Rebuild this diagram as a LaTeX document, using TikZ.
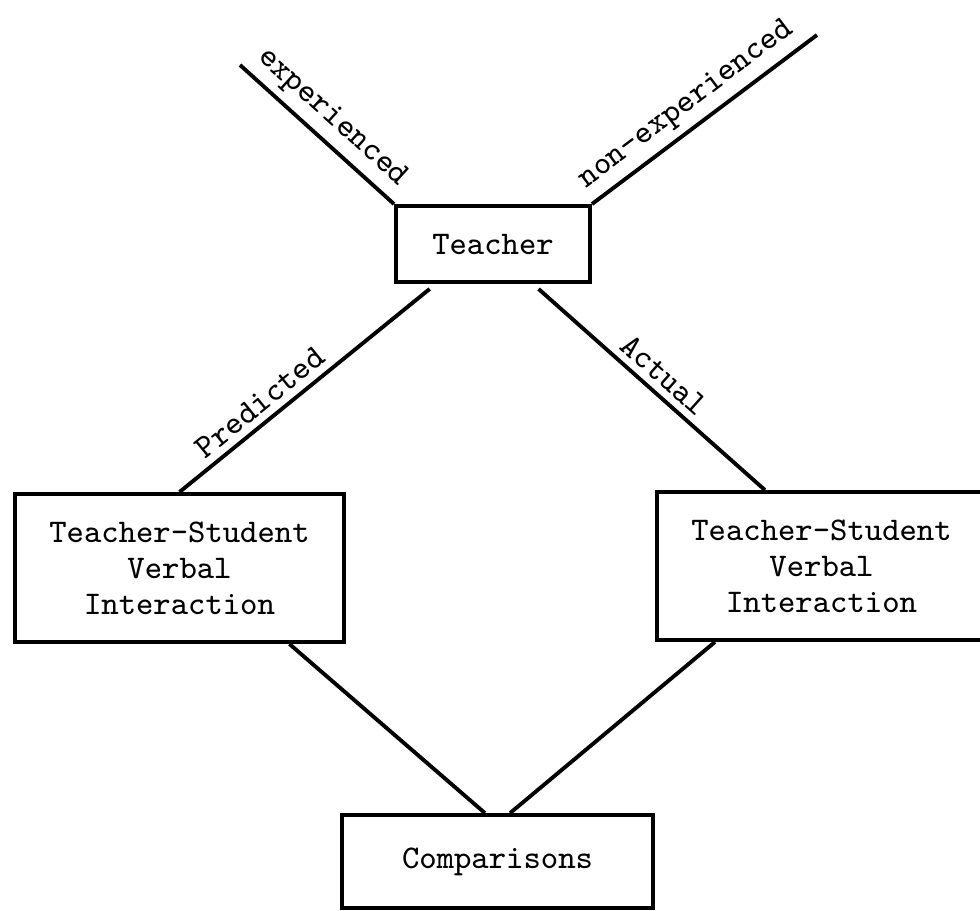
\documentclass[tikz,border=0pt]{standalone}
\usepackage{tikz}
\usetikzlibrary{calc}

\tikzset{
	box/.style = {draw, line width=1.1pt, align=center, inner sep=0pt, font=\ttfamily\fontsize{9.4}{10.2}\selectfont},
	link/.style = {line width=1.1pt},
	tag/.style = {sloped, above, inner sep=2pt, font=\ttfamily\fontsize{9.4}{10.2}\selectfont},
}

\begin{document}
	\begin{tikzpicture}[x=0.01cm, y=-0.01cm]
		\def\w{3.29cm};
		\def\h{1.48cm};
		\def\gap{5};
		
		\useasboundingbox (0,0) rectangle (980,910);
		
		\node [box, minimum width=1.94cm, minimum height=0.76cm] (teacher) at (493,244) {Teacher};
		\node [box, minimum width=\w, minimum height=\h] (predicted) at (179.5,568) {Teacher-Student\\Verbal\\Interaction};
		\node [box, minimum width=\w, minimum height=\h] (actual) at (821.5,566) {Teacher-Student\\Verbal\\Interaction};
		\node [box, minimum width=3.11cm, minimum height=0.93cm] (comparisons) at (497.5,861.5) {Comparisons};
		
		\coordinate (exptop) at (240,65);
		\coordinate (nonexptop) at (817,35);
		
		\draw [link] (exptop) -- (teacher.north west) node [tag, midway] {experienced};
		\draw [link] (teacher.north east) -- (nonexptop) node [tag, pos=0.48] {non-experienced};
		\draw [link] (predicted.north) -- ($(teacher.south west)!0.18!(teacher.south east) + (0,\gap)$) node [tag, pos=0.37] {Predicted};
		\draw [link] ($(teacher.south west)!0.73!(teacher.south east) + (0,\gap)$) -- ($(actual.north west)!0.33!(actual.north east)$) node [tag, midway] {Actual};
		\draw [link] ($(predicted.south west)!0.83!(predicted.south east)$) -- ($(comparisons.north west)!0.46!(comparisons.north east)$);
		\draw [link] ($(actual.south west)!0.18!(actual.south east)$) -- ($(comparisons.north west)!0.54!(comparisons.north east)$);
	\end{tikzpicture}
\end{document}
